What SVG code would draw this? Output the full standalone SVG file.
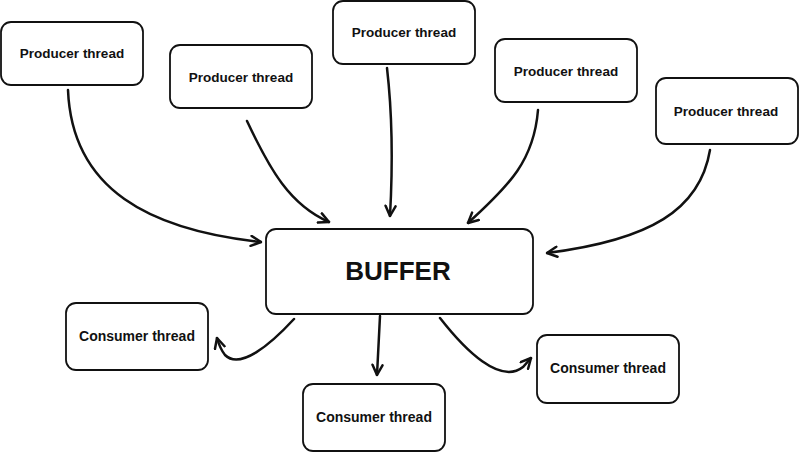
<svg xmlns="http://www.w3.org/2000/svg" width="800" height="453" viewBox="0 0 800 453">
<defs>
<style>
.box{fill:#fff;stroke:#111;stroke-width:1.8}
.t{font-family:"Liberation Sans",Arial,sans-serif;font-size:13.5px;font-weight:bold;fill:#111;text-anchor:middle;dominant-baseline:central}
.c{font-family:"Liberation Sans",Arial,sans-serif;font-size:14px;font-weight:bold;fill:#111;text-anchor:middle;dominant-baseline:central}
.big{font-family:"Liberation Sans",Arial,sans-serif;font-size:26px;font-weight:bold;fill:#111;text-anchor:middle;dominant-baseline:central}
.e{fill:none;stroke:#111;stroke-width:2.5;stroke-linecap:round;marker-end:url(#ah)}
</style>
<marker id="ah" viewBox="0 0 10 10" refX="9" refY="5" markerWidth="5" markerHeight="5" orient="auto" markerUnits="strokeWidth">
<polyline points="1,1 9,5 1,9" fill="none" stroke="#111" stroke-width="2" stroke-linecap="round" stroke-linejoin="round"/>
</marker>
</defs>
<rect width="800" height="453" fill="#fff"/>
<g id="p1"><rect class="box" x="1" y="22" width="142" height="63" rx="10"/><text class="t" x="72" y="53">Producer thread</text></g>
<g id="p2"><rect class="box" x="170" y="45" width="142" height="63" rx="10"/><text class="t" x="241" y="77">Producer thread</text></g>
<g id="p3"><rect class="box" x="333" y="1" width="142" height="63" rx="10"/><text class="t" x="404" y="32">Producer thread</text></g>
<g id="p4"><rect class="box" x="495" y="39" width="142" height="63" rx="10"/><text class="t" x="566" y="71">Producer thread</text></g>
<g id="p5"><rect class="box" x="656" y="78" width="142" height="66" rx="10"/><text class="t" x="726" y="111">Producer thread</text></g>
<g id="buffer"><rect class="box" x="266" y="229" width="267" height="85" rx="10"/><text class="big" x="398" y="271">BUFFER</text></g>
<g id="c1"><rect class="box" x="66" y="303" width="142" height="67" rx="10"/><text class="c" x="137" y="336">Consumer thread</text></g>
<g id="c2"><rect class="box" x="303" y="384" width="142" height="67" rx="10"/><text class="c" x="374" y="417">Consumer thread</text></g>
<g id="c3"><rect class="box" x="537" y="335" width="142" height="68" rx="10"/><text class="c" x="608" y="368">Consumer thread</text></g>
<g id="connectors">
<path class="e" d="M68,90 C72,190 150,230 261,242"/>
<path class="e" d="M247,121 C270,170 290,205 329,222"/>
<path class="e" d="M387,68 C393,120 392,180 390,216"/>
<path class="e" d="M538,110 C534,160 510,185 468,223"/>
<path class="e" d="M710,150 C700,210 650,240 547,253"/>
<path class="e" d="M294,319 C270,345 240,370 225,355 C221,350 219,345 217,338"/>
<path class="e" d="M380,316 L377,375"/>
<path class="e" d="M440,318 C465,350 500,385 523,367 L531,358"/>
</g>
</svg>
